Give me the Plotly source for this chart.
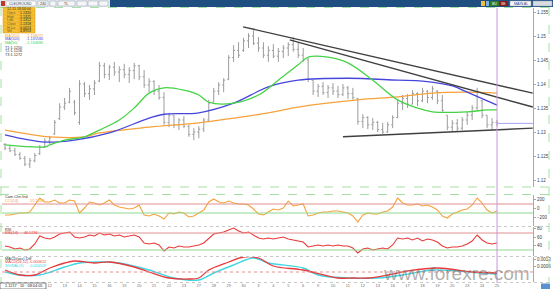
import plotly.graph_objects as go

W, H = 553, 289
def fx(p): return p / W
def fy(p): return 1 - p / H

# ---------------- data ----------------
bar_idx = list(range(100))
opens = [1.1274,1.1266,1.1261,1.1253,1.1245,1.1233,1.1240,1.1255,1.1268,1.1281,
         1.1296,1.1328,1.1352,1.1362,1.1362,1.1320,1.1400,1.1380,1.1390,1.1406,
         1.1438,1.1420,1.1435,1.1425,1.1430,1.1420,1.1428,1.1438,1.1415,1.1398,
         1.1405,1.1385,1.1372,1.1320,1.1335,1.1315,1.1325,1.1312,1.1295,1.1300,
         1.1306,1.1325,1.1362,1.1385,1.1398,1.1410,1.1455,1.1470,1.1470,1.1490,
         1.1500,1.1485,1.1475,1.1460,1.1470,1.1458,1.1468,1.1475,1.1482,1.1472,
         1.1460,1.1450,1.1408,1.1385,1.1395,1.1382,1.1392,1.1385,1.1378,1.1392,
         1.1380,1.1370,1.1322,1.1330,1.1315,1.1320,1.1305,1.1300,1.1315,1.1330,
         1.1360,1.1370,1.1358,1.1380,1.1365,1.1385,1.1372,1.1385,1.1365,1.1335,
         1.1310,1.1318,1.1308,1.1325,1.1335,1.1350,1.1365,1.1335,1.1315,1.1320]
highs = [1.1277,1.1273,1.1267,1.1258,1.1250,1.1246,1.1256,1.1273,1.1287,1.1292,
         1.1325,1.1360,1.1371,1.1392,1.1367,1.1408,1.1404,1.1398,1.1408,1.1446,
         1.1444,1.1440,1.1446,1.1437,1.1442,1.1435,1.1444,1.1440,1.1429,1.1412,
         1.1408,1.1398,1.1383,1.1340,1.1335,1.1329,1.1333,1.1315,1.1308,1.1312,
         1.1329,1.1367,1.1392,1.1404,1.1412,1.1460,1.1481,1.1487,1.1496,1.1506,
         1.1512,1.1498,1.1487,1.1479,1.1483,1.1475,1.1481,1.1487,1.1498,1.1487,
         1.1475,1.1454,1.1408,1.1400,1.1404,1.1398,1.1402,1.1396,1.1400,1.1396,
         1.1392,1.1371,1.1337,1.1333,1.1329,1.1323,1.1319,1.1321,1.1335,1.1367,
         1.1377,1.1379,1.1387,1.1383,1.1392,1.1387,1.1396,1.1387,1.1377,1.1335,
         1.1325,1.1327,1.1331,1.1342,1.1356,1.1392,1.1367,1.1335,1.1329,1.1325]
lows = [1.1262,1.1258,1.1250,1.1242,1.1229,1.1225,1.1237,1.1252,1.1267,1.1273,
        1.1294,1.1325,1.1346,1.1360,1.1335,1.1315,1.1373,1.1367,1.1377,1.1404,
        1.1412,1.1408,1.1417,1.1404,1.1412,1.1402,1.1410,1.1408,1.1392,1.1383,
        1.1377,1.1367,1.1315,1.1310,1.1308,1.1304,1.1308,1.1290,1.1283,1.1287,
        1.1300,1.1321,1.1362,1.1377,1.1383,1.1408,1.1446,1.1454,1.1467,1.1475,
        1.1481,1.1467,1.1454,1.1446,1.1454,1.1446,1.1454,1.1458,1.1467,1.1454,
        1.1446,1.1404,1.1377,1.1373,1.1377,1.1371,1.1377,1.1371,1.1375,1.1369,
        1.1367,1.1315,1.1308,1.1306,1.1304,1.1300,1.1296,1.1298,1.1308,1.1329,
        1.1346,1.1350,1.1358,1.1354,1.1362,1.1360,1.1367,1.1358,1.1342,1.1304,
        1.1300,1.1302,1.1304,1.1315,1.1325,1.1346,1.1329,1.1308,1.1304,1.1312]
closes = [1.1266,1.1261,1.1253,1.1245,1.1233,1.1240,1.1251,1.1268,1.1281,1.1288,
          1.1320,1.1352,1.1360,1.1385,1.1340,1.1400,1.1380,1.1390,1.1402,1.1438,
          1.1420,1.1435,1.1425,1.1430,1.1420,1.1428,1.1438,1.1415,1.1398,1.1405,
          1.1385,1.1372,1.1320,1.1335,1.1315,1.1325,1.1312,1.1295,1.1300,1.1306,
          1.1325,1.1360,1.1385,1.1398,1.1408,1.1455,1.1470,1.1460,1.1490,1.1500,
          1.1485,1.1475,1.1460,1.1470,1.1458,1.1468,1.1475,1.1482,1.1472,1.1460,
          1.1450,1.1410,1.1385,1.1395,1.1382,1.1392,1.1385,1.1378,1.1392,1.1380,
          1.1372,1.1322,1.1330,1.1315,1.1320,1.1305,1.1300,1.1315,1.1330,1.1360,
          1.1370,1.1358,1.1380,1.1365,1.1385,1.1372,1.1390,1.1365,1.1345,1.1310,
          1.1318,1.1308,1.1325,1.1335,1.1350,1.1385,1.1335,1.1315,1.1320,1.1318]

ma200_x = [0, 9, 16, 19, 29, 39, 46, 53, 59, 71, 79, 86, 93, 99]
ma200_y = [1.1304, 1.1290, 1.1290, 1.1298, 1.1310, 1.1319, 1.1329, 1.1340, 1.1352,
           1.1367, 1.1373, 1.1381, 1.1383, 1.1381]
ma100_x = [0, 8, 14, 21, 29, 32, 39, 46, 53, 59, 69, 79, 84, 90, 93, 99]
ma100_y = [1.1294, 1.1279, 1.1283, 1.1298, 1.1329, 1.1337, 1.1340, 1.1360, 1.1394,
           1.1408, 1.1412, 1.1408, 1.1406, 1.1396, 1.1383, 1.1356]
ma50_x = [0, 8, 9, 12, 16, 19, 23, 26, 29, 32, 36, 39, 41, 46, 51, 55, 59, 61, 65,
          69, 74, 79, 83, 86, 93, 97, 99]
ma50_y = [1.1273, 1.1269, 1.1273, 1.1283, 1.1290, 1.1304, 1.1325, 1.1350, 1.1381,
          1.1392, 1.1387, 1.1377, 1.1362, 1.1360, 1.1377, 1.1408, 1.1440, 1.1456,
          1.1456, 1.1444, 1.1408, 1.1367, 1.1350, 1.1342, 1.1342, 1.1346, 1.1346]

trendA_x = [47.9, 106.2]
trendA_y = [1.1519, 1.1381]
trendB_x = [57.3, 106.2]
trendB_y = [1.1492, 1.1352]
trendC_x = [68.0, 106.2]
trendC_y = [1.1290, 1.1308]

cci = [-144,-144,-122,-100,-100,-78,78,233,144,144,
       189,122,122,189,167,-100,11,144,122,78,
       122,189,78,33,11,-11,11,78,-144,-166,
       -122,-166,-233,-100,-122,-78,-100,-189,-166,-100,
       -33,144,211,144,122,167,122,100,100,78,
       -11,-122,-144,-78,-11,-33,11,167,56,78,
       100,-166,-144,-100,-78,-78,-55,-55,-78,-100,
       -166,-300,-144,-100,-122,-122,-78,-55,33,233,
       122,78,78,100,56,78,33,-33,-166,-211,
       -122,-78,-33,-11,78,233,122,-33,-100,-55]
rsi = [39.4,37.1,32.4,34.7,30.0,32.4,44.1,62.9,58.2,55.9,
       60.6,67.6,70.0,72.4,60.6,58.2,60.6,65.3,62.9,70.0,
       65.3,67.6,62.9,65.3,60.6,62.9,65.3,60.6,46.5,44.1,
       46.5,41.8,27.6,37.1,34.7,39.4,37.1,37.1,39.4,41.8,
       46.5,58.2,67.6,70.0,72.4,77.1,81.8,74.7,70.0,72.4,
       65.3,58.2,55.9,58.2,55.9,58.2,60.6,55.9,53.5,51.2,
       48.8,37.1,39.4,41.8,39.4,41.8,39.4,41.8,39.4,39.4,
       34.7,22.9,32.4,34.7,30.0,32.4,34.7,32.4,41.8,58.2,
       55.9,58.2,53.5,58.2,51.2,55.9,53.5,48.8,39.4,34.7,
       37.1,37.1,39.4,44.1,51.2,65.3,53.5,46.5,44.1,46.5]
macd_x = [0, 3, 6, 9, 12, 14, 18, 21, 26, 29, 33, 37, 39, 41, 45, 48, 51, 54, 60,
          67, 70, 73, 77, 81, 87, 94, 99]
macd_y = [0.0002, -0.0003, -0.0003, 0.0004, 0.0009, 0.0011, 0.0009, 0.0010, 0.0005,
          0.0, -0.0006, -0.0007, -0.0006, 0.0002, 0.0010, 0.0015, 0.0014, 0.0006,
          0.0002, -0.0006, -0.0006, -0.0006, -0.0003, 0.0001, 0.0004, 0.0, -0.0001]
signal_x = [0, 3, 7, 12, 15, 19, 23, 29, 34, 39, 42, 46, 50, 53, 60, 63, 69, 75, 80,
            86, 91, 96, 99]
signal_y = [0.0, -0.0003, -0.0003, 0.0005, 0.0009, 0.0010, 0.0009, 0.0002, -0.0006,
            -0.0008, -0.0001, 0.0007, 0.0014, 0.0009, 0.0004, -0.0003, -0.0006,
            -0.0006, -0.0003, 0.0002, 0.0001, -0.0001, -0.0002]

price_ticks = [1.12, 1.125, 1.13, 1.135, 1.14, 1.145, 1.15, 1.155]
cci_ticks = [200, 0, -200]
cci_levels = [100, -100]
rsi_ticks = [80, 60, 40]
rsi_levels = [70, 30]
macd_ticks = [0.0013, 0.0006]
date_ticks = list(range(9, 100, 3))
date_labels = ["12","13","14","15","16","19","20","21","22","23","27",
               "28","29","30","3","4","5","6","9","10","11","12","13","16","17",
               "18","19","20","23","24","25"]

info_rows = [("Open", "1.1320"), ("High", "1.1325"), ("Low", "1.1312"),
             ("Close", "1.1318"), ("Hi-Lo", "0.0013"), ("Vol", "4,8953")]

# ---------------- figure ----------------
FONT = "Liberation Sans"
ORANGE = "#f5a23c"; BLUE = "#4646dc"; GREEN = "#46d246"
RED = "#e83a3a"; CYAN = "#3fd6e6"; BARC = "#9c9c9c"

fig = go.Figure()
fig.add_trace(go.Ohlc(x=bar_idx, open=opens, high=highs, low=lows, close=closes,
                      increasing=dict(line=dict(color=BARC, width=1)),
                      decreasing=dict(line=dict(color=BARC, width=1)),
                      tickwidth=0.3, hoverinfo="skip", xaxis="x", yaxis="y"))
for xs, ys, c in [(ma200_x, ma200_y, ORANGE), (ma100_x, ma100_y, BLUE), (ma50_x, ma50_y, GREEN)]:
    fig.add_trace(go.Scatter(x=xs, y=ys, mode="lines", line=dict(color=c, width=1.3, shape="spline"),
                             hoverinfo="skip", yaxis="y"))
for xs, ys in [(trendA_x, trendA_y), (trendB_x, trendB_y), (trendC_x, trendC_y)]:
    fig.add_trace(go.Scatter(x=xs, y=ys, mode="lines", line=dict(color="#404040", width=1.4),
                             hoverinfo="skip", yaxis="y"))
# current price line
fig.add_trace(go.Scatter(x=[bar_idx[-1], 106.24], y=[closes[-1], closes[-1]], mode="lines",
                         line=dict(color="#a4a4f0", width=1), hoverinfo="skip", yaxis="y"))

fig.add_trace(go.Scatter(x=bar_idx, y=cci, mode="lines", line=dict(color=ORANGE, width=1.1),
                         hoverinfo="skip", yaxis="y2"))
fig.add_trace(go.Scatter(x=bar_idx, y=rsi, mode="lines", line=dict(color=RED, width=1.1),
                         hoverinfo="skip", yaxis="y3"))
fig.add_trace(go.Scatter(x=signal_x, y=signal_y, mode="lines", line=dict(color=CYAN, width=1.4, shape="spline"),
                         hoverinfo="skip", yaxis="y4"))
fig.add_trace(go.Scatter(x=macd_x, y=macd_y, mode="lines", line=dict(color=RED, width=1.3, shape="spline"),
                         hoverinfo="skip", yaxis="y4"))

tickfont = dict(size=4.5, color="#404040", family=FONT)
common_y = dict(side="right", showline=True, linecolor="#a8a8a8", linewidth=1, ticks="outside",
                ticklen=2, tickcolor="#a8a8a8", tickfont=tickfont, showgrid=False,
                zeroline=False, anchor="x", fixedrange=True)

shapes = []
def prect(x0, y0, x1, y1, fill, line=None, lw=0):
    shapes.append(dict(type="rect", xref="paper", yref="paper", x0=fx(x0), x1=fx(x1),
                       y0=fy(y1), y1=fy(y0), fillcolor=fill,
                       line=dict(color=line or fill, width=lw), layer="above"))
def pline(x0, y0, x1, y1, color, width=1, dash="solid"):
    shapes.append(dict(type="line", xref="paper", yref="paper", x0=fx(x0), x1=fx(x1),
                       y0=fy(y0), y1=fy(y1), line=dict(color=color, width=width, dash=dash),
                       layer="above"))

# panel frame lines
GD = "#a6e0a6"
pline(0, 7.5, 553, 7.5, GD, 1, "dash")
pline(1, 7, 1, 283, GD, 1, "dash")
pline(549, 7, 549, 283, GD, 1, "dash")
pline(0, 187, 549, 187, GD, 1, "dash")
pline(0, 194.5, 549, 194.5, GD, 1, "dash")
pline(0, 226.5, 549, 226.5, "#c8c8c8", 1, "dot")
pline(0, 256.5, 549, 256.5, "#c8c8c8", 1, "dot")
pline(0, 282.5, 549, 282.5, "#c8c8c8", 1, "dot")

# indicator level lines
for yref, lv in [("y2", cci_levels), ("y3", rsi_levels)]:
    shapes.append(dict(type="line", xref="x domain", yref=yref, x0=0, x1=1, y0=lv[0], y1=lv[0],
                       line=dict(color="#e09090", width=1)))
    shapes.append(dict(type="line", xref="x domain", yref=yref, x0=0, x1=1, y0=lv[1], y1=lv[1],
                       line=dict(color="#8ed88e", width=1)))
shapes.append(dict(type="line", xref="x domain", yref="y4", x0=0, x1=1, y0=0, y1=0,
                   line=dict(color="#e09090", width=1, dash="dot")))
# last bar vertical marker
shapes.append(dict(type="line", xref="x", yref="paper", x0=bar_idx[-1], x1=bar_idx[-1],
                   y0=fy(283), y1=fy(7.5), line=dict(color="#c993dc", width=1)))

# toolbar
prect(0, 0, 553, 7, "#1f4f80")
prect(0, 0, 110, 7, "#dfe5ec")
prect(1, 1, 5, 6, "#c0392b")
prect(6, 1, 36, 6, "#ffffff", "#9aa5b1", 0.5)
for a, b in [(38, 48), (50, 56), (58, 75), (77, 87), (88, 98), (99, 108)]:
    prect(a, 1, b, 6, "#f4f6f8", "#9aa5b1", 0.5)
prect(481, 1, 485, 6, "#f0c040")
prect(486, 1, 489, 6, "#7fb2e0")
prect(490, 1, 499, 6, "#2d7d2d")
prect(499, 1, 508, 6, "#8b1c1c")
prect(510, 1, 531, 6, "#f5f7fa", "#9aa5b1", 0.5)
prect(533, 1, 552, 6, "#d7dce2", "#9aa5b1", 0.5)

# info box
prect(3, 7.5, 35, 33, "#f6bf32", "#d89a10", 0.5)
for k in range(1, 7):
    pline(3, 7.5 + k * 3.65, 35, 7.5 + k * 3.65, "#e0a520", 0.5)
pline(19, 11, 19, 33, "#e0a520", 0.5)

# bottom-left box and icon
prect(0, 283, 46, 289, "#ffffff", "#333333", 0.6)
prect(541, 283.5, 550, 289, "#5b8fd0")

ann = []
def txt(x, y, s, color="#222222", size=4, anchor="left", family=FONT, opacity=1):
    ann.append(dict(x=fx(x), y=fy(y), xref="paper", yref="paper", text=s, showarrow=False,
                    xanchor=anchor, yanchor="middle", font=dict(size=size, color=color, family=family),
                    opacity=opacity))

txt(20, 3.6, "CLEUROUSD", "#333333", 3.6, "center")
txt(43, 3.6, "240", "#333333", 3.6, "center")
txt(66, 3.6, "TL", "#333333", 3.6, "center")
txt(494.5, 3.6, "BU", "#ffffff", 3.4, "center")
txt(503.5, 3.6, "SE", "#ffffff", 3.4, "center")
txt(520.5, 3.6, "MAIN AL", "#2a3f8f", 3.6, "center")

txt(19, 9.4, "12.15 16:00:00", "#3a2a00", 3.6, "center")
for k, (lab, val) in enumerate(info_rows):
    yy = 9.4 + (k + 1) * 3.65
    txt(5, yy, lab, "#6a5a30", 3.4)
    txt(33, yy, val, "#1a1a1a", 3.6, "right")

txt(3, 35.5, "MA(200)", ORANGE, 3.8)
txt(24, 35.5, "-1.138072", ORANGE, 3.8)
txt(3, 39.5, "MA(100)", BLUE, 3.8)
txt(24, 39.5, "-1.135580", BLUE, 3.8)
txt(3, 43.5, "MA(50)", GREEN, 3.8)
txt(24, 43.5, "-1.134680", GREEN, 3.8)
txt(3, 48, "T1:1.1250", "#333333", 3.8)
txt(3, 51.5, "T2:1.1256", "#333333", 3.8)
txt(3, 55, "T3:1.1272", "#333333", 3.8)

txt(3, 197, "Com-Chn Ind", "#333333", 3.8)
txt(3, 200.5, "CCI(14)", ORANGE, 3.8)
txt(27, 200.5, "-55.1234", ORANGE, 3.8)
txt(3, 229.5, "RSI", "#333333", 3.8)
txt(3, 233, "RSI(14)", RED, 3.8)
txt(22, 233, "46.5234", RED, 3.8)
txt(3, 258.5, "MACD(osc) Diff", "#333333", 3.8)
txt(3, 262, "MACD(26,12)", RED, 3.8)
txt(27, 262, "-0.000612", RED, 3.8)
txt(3, 265.5, "SIGNAL(9)", CYAN, 3.8)
txt(27, 265.5, "-0.000509", CYAN, 3.8)
txt(23, 286, "1.1217 · 10 · 08:04:05", "#222222", 3.8, "center")

# watermark
txt(456, 273, "www.forexre.com", "rgba(110,110,110,0.55)", 19, "center", "Liberation Sans")

fig.update_layout(
    width=W, height=H, margin=dict(l=0, r=0, t=0, b=0),
    paper_bgcolor="white", plot_bgcolor="white", showlegend=False,
    xaxis=dict(domain=[fx(2), fx(533)], range=[-0.6, 106.24], anchor="y4",
               tickvals=date_ticks, ticktext=date_labels, ticks="", showgrid=False,
               zeroline=False, showline=False, tickfont=dict(size=4, color="#707070", family=FONT),
               rangeslider=dict(visible=False), fixedrange=True),
    yaxis=dict(domain=[fy(187), fy(8)], range=[1.1575 - 187 / 4800, 1.1575 - 8 / 4800],
               tickvals=price_ticks, **common_y),
    yaxis2=dict(domain=[fy(226), fy(195)], range=[-388.4, 299.8], tickvals=cci_ticks, **common_y),
    yaxis3=dict(domain=[fy(256), fy(227)], range=[15.88, 84.12], tickvals=rsi_ticks, **common_y),
    yaxis4=dict(domain=[fy(282), fy(257)], range=[-0.0010, 0.0015], tickvals=macd_ticks,
                tickformat=".4f", **common_y),
    shapes=shapes, annotations=ann,
)

fig.write_html("out.html")
